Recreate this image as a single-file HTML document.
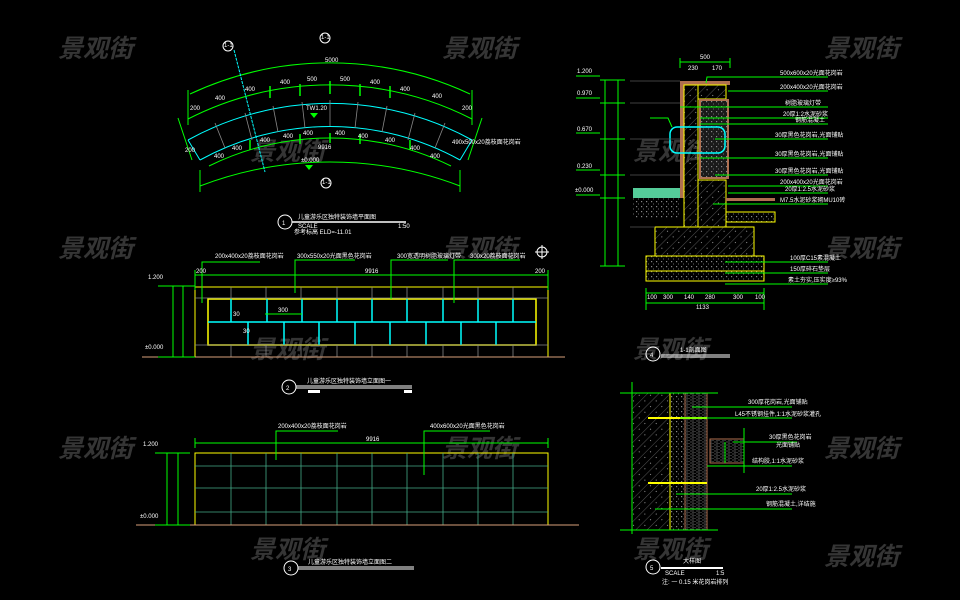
<!DOCTYPE html>
<html><head><meta charset="utf-8"><style>
html,body{margin:0;padding:0;background:#000;}
svg{display:block;font-family:"Liberation Sans","Noto Sans CJK SC",sans-serif;}
.w{fill:#fff;font-size:6px;}
.wm{fill:#353535;font-size:25px;font-style:italic;font-weight:bold;font-family:"Liberation Sans","Noto Sans CJK SC",sans-serif;}
</style></head><body>
<svg width="960" height="600" viewBox="0 0 960 600" xmlns="http://www.w3.org/2000/svg">
<defs>
<pattern id="hatch" width="8" height="8" patternUnits="userSpaceOnUse" patternTransform="rotate(45)">
<line x1="0" y1="0" x2="0" y2="8" stroke="#777" stroke-width="0.7"/>
<rect x="3" y="3" width="1" height="1" fill="#999"/></pattern>
<pattern id="dots" width="5" height="5" patternUnits="userSpaceOnUse">
<rect x="1" y="1" width="1.2" height="1.2" fill="#888"/><rect x="3" y="3.5" width="1" height="1" fill="#666"/></pattern>
<pattern id="stone" width="6" height="3" patternUnits="userSpaceOnUse">
<line x1="0" y1="1" x2="4" y2="1" stroke="#777" stroke-width="0.6"/><line x1="2" y1="2.5" x2="6" y2="2.5" stroke="#555" stroke-width="0.6"/></pattern>
</defs>
<rect width="960" height="600" fill="#000"/>

<!-- watermarks -->
<g class="wm">
<text x="58" y="57">景观街</text><text x="442" y="57">景观街</text><text x="824" y="57">景观街</text>
<text x="250" y="160">景观街</text><text x="633" y="160">景观街</text>
<text x="58" y="257">景观街</text><text x="442" y="257">景观街</text><text x="824" y="257">景观街</text>
<text x="250" y="358">景观街</text><text x="633" y="358">景观街</text>
<text x="58" y="457">景观街</text><text x="442" y="457">景观街</text><text x="824" y="457">景观街</text>
<text x="250" y="558">景观街</text><text x="633" y="558">景观街</text><text x="824" y="565">景观街</text>
</g>

<!-- PLAN 1 -->
<g fill="none" stroke="#0f0" stroke-width="1">
<path d="M190 94 A331 331 0 0 1 470 94"/>
<path d="M188 119 A313 313 0 0 1 472 119"/>
<path d="M209 166 A275 275 0 0 1 451 166"/>
<path d="M200 186 A364 364 0 0 1 460 186"/>
<line x1="188" y1="90" x2="188" y2="125"/><line x1="472" y1="90" x2="472" y2="125"/>
<line x1="178" y1="118" x2="192" y2="160"/><line x1="482" y1="118" x2="468" y2="160"/>
<line x1="200" y1="170" x2="200" y2="192"/><line x1="460" y1="170" x2="460" y2="192"/>
</g>
<g fill="none" stroke="#0ff" stroke-width="1">
<path d="M188 140 A294 294 0 0 1 472 140"/>
<path d="M200 160 A269 269 0 0 1 460 160"/>
<line x1="188" y1="140" x2="200" y2="160"/><line x1="472" y1="140" x2="460" y2="160"/>
<line x1="234" y1="50" x2="265" y2="172" stroke-dasharray="3,1"/>
</g>
<g stroke="#888" stroke-width="0.8">
<line x1="215" y1="123" x2="225" y2="148"/><line x1="245" y1="113" x2="252" y2="140"/>
<line x1="273" y1="106" x2="278" y2="132"/><line x1="302" y1="102" x2="305" y2="128"/>
<line x1="330" y1="100" x2="330" y2="126"/><line x1="358" y1="102" x2="355" y2="128"/>
<line x1="387" y1="106" x2="382" y2="132"/><line x1="415" y1="113" x2="408" y2="140"/>
<line x1="445" y1="123" x2="435" y2="148"/>
</g>
<g stroke="#0f0" stroke-width="1.5">
<line x1="300" y1="84" x2="300" y2="96"/><line x1="330" y1="81" x2="330" y2="94"/><line x1="360" y1="84" x2="360" y2="96"/>
<line x1="270" y1="86" x2="270" y2="98"/><line x1="390" y1="86" x2="390" y2="98"/>
<line x1="300" y1="134" x2="300" y2="144"/><line x1="330" y1="133" x2="330" y2="143"/><line x1="360" y1="134" x2="360" y2="144"/>
<line x1="250" y1="140" x2="250" y2="150"/><line x1="410" y1="140" x2="410" y2="150"/>
</g>
<g class="w" font-size="5">
<text x="325" y="62">5000</text>
<text x="215" y="100">400</text><text x="245" y="91">400</text><text x="280" y="84">400</text><text x="307" y="81">500</text>
<text x="340" y="81">500</text><text x="370" y="84">400</text><text x="400" y="91">400</text><text x="432" y="98">400</text>
<text x="190" y="110">200</text><text x="462" y="110">200</text>
<text x="185" y="152">200</text><text x="214" y="158">400</text><text x="232" y="150">400</text><text x="260" y="142">400</text>
<text x="283" y="138">400</text><text x="303" y="135">400</text><text x="335" y="135">400</text><text x="358" y="138">400</text>
<text x="385" y="142">400</text><text x="410" y="150">400</text><text x="430" y="158">400</text>
<text x="306" y="110" font-size="6">TW1.20</text><text x="318" y="149">9916</text><text x="301" y="162">±0.000</text>
<text x="452" y="144">490x500x20荔枝面花岗岩</text>
</g>
<g fill="#0f0"><polygon points="310,113 318,113 314,118"/><polygon points="305,165 313,165 309,170"/></g>
<g fill="none" stroke="#fff" stroke-width="1">
<circle cx="228" cy="46" r="5"/><circle cx="325" cy="38" r="5"/><circle cx="326" cy="183" r="5"/>
</g>
<g class="w" font-size="4"><text x="224" y="47">1-1</text><text x="321" y="39">1-1</text><text x="322" y="184">1-1</text></g>
<circle cx="285" cy="222" r="7" fill="none" stroke="#fff"/><text x="282" y="225" class="w" font-size="8" fill="#f55">1</text>
<text x="298" y="219" class="w" font-size="7">儿童游乐区独特装饰墙平面图</text>
<line x1="292" y1="222" x2="406" y2="222" stroke="#fff" stroke-width="1.5"/>
<text x="298" y="228" class="w" font-size="4">SCALE</text><text x="398" y="228" class="w" font-size="4">1:50</text>
<text x="294" y="234" class="w" font-size="4">参考标高 ELD=-11.01</text>

<!-- crosshair -->
<g stroke="#fff" fill="none"><circle cx="542" cy="252" r="5"/><line x1="535" y1="252" x2="549" y2="252"/><line x1="542" y1="245" x2="542" y2="259"/></g>

<!-- ELEVATION 2 -->
<rect x="195" y="287" width="353" height="70" fill="none" stroke="#ff0"/>
<rect x="208" y="299" width="328" height="46" fill="none" stroke="#ff0" stroke-width="1.5"/>
<line x1="208" y1="322" x2="536" y2="322" stroke="#0ff" stroke-width="1.5"/>
<g stroke="#0ff" stroke-width="1.5">
<line x1="231" y1="299" x2="231" y2="322"/><line x1="267" y1="299" x2="267" y2="322"/><line x1="302" y1="299" x2="302" y2="322"/>
<line x1="337" y1="299" x2="337" y2="322"/><line x1="372" y1="299" x2="372" y2="322"/><line x1="407" y1="299" x2="407" y2="322"/>
<line x1="443" y1="299" x2="443" y2="322"/><line x1="478" y1="299" x2="478" y2="322"/><line x1="513" y1="299" x2="513" y2="322"/>
<line x1="248" y1="322" x2="248" y2="345"/><line x1="284" y1="322" x2="284" y2="345"/><line x1="319" y1="322" x2="319" y2="345"/>
<line x1="355" y1="322" x2="355" y2="345"/><line x1="390" y1="322" x2="390" y2="345"/><line x1="426" y1="322" x2="426" y2="345"/>
<line x1="461" y1="322" x2="461" y2="345"/><line x1="496" y1="322" x2="496" y2="345"/>
</g>
<g stroke="#888" stroke-width="0.8">
<line x1="195" y1="298" x2="548" y2="298"/><line x1="195" y1="345" x2="548" y2="345"/>
<line x1="231" y1="287" x2="231" y2="299"/><line x1="266" y1="287" x2="266" y2="299"/><line x1="301" y1="287" x2="301" y2="299"/><line x1="337" y1="287" x2="337" y2="299"/><line x1="372" y1="287" x2="372" y2="299"/><line x1="407" y1="287" x2="407" y2="299"/><line x1="443" y1="287" x2="443" y2="299"/><line x1="478" y1="287" x2="478" y2="299"/><line x1="513" y1="287" x2="513" y2="299"/>
<line x1="231" y1="345" x2="231" y2="357"/><line x1="266" y1="345" x2="266" y2="357"/><line x1="301" y1="345" x2="301" y2="357"/><line x1="337" y1="345" x2="337" y2="357"/><line x1="372" y1="345" x2="372" y2="357"/><line x1="407" y1="345" x2="407" y2="357"/><line x1="443" y1="345" x2="443" y2="357"/><line x1="478" y1="345" x2="478" y2="357"/><line x1="513" y1="345" x2="513" y2="357"/>
</g>
<line x1="142" y1="357" x2="565" y2="357" stroke="#d9a07a"/>
<g stroke="#0f0" stroke-width="1" fill="none">
<line x1="195" y1="275" x2="548" y2="275"/><line x1="195" y1="270" x2="195" y2="290"/><line x1="548" y1="270" x2="548" y2="290"/>
<line x1="173" y1="286" x2="173" y2="357"/><line x1="183" y1="286" x2="183" y2="357"/>
<line x1="158" y1="286" x2="195" y2="286"/><line x1="158" y1="357" x2="195" y2="357"/>
<polyline points="202,303 202,262 260,262"/><polyline points="295,293 295,260 355,260"/>
<polyline points="391,299 391,260 448,260"/><polyline points="454,303 454,260 520,260"/>
<line x1="265" y1="314" x2="302" y2="314"/>
</g>
<g class="w" font-size="5">
<text x="215" y="258">200x400x20荔枝面花岗岩</text><text x="297" y="258">300x550x20光面黑色花岗岩</text>
<text x="397" y="258">300宽透明树脂玻璃灯带</text><text x="470" y="258">300x20荔枝面花岗岩</text>
<text x="196" y="273">200</text><text x="535" y="273">200</text><text x="365" y="273">9916</text>
<text x="148" y="279">1.200</text><text x="145" y="349">±0.000</text>
<text x="278" y="312">300</text><text x="233" y="316">30</text><text x="243" y="333">30</text>
</g>
<circle cx="289" cy="387" r="7" fill="none" stroke="#fff"/><text x="286" y="390" class="w" font-size="8">2</text>
<text x="307" y="383" class="w" font-size="7">儿童游乐区独特装饰墙立面图一</text>
<line x1="296" y1="386" x2="412" y2="386" stroke="#fff"/><line x1="296" y1="388" x2="412" y2="388" stroke="#fff"/>
<rect x="308" y="390" width="12" height="3" fill="#fff"/><rect x="404" y="390" width="8" height="3" fill="#fff"/>

<!-- ELEVATION 3 -->
<rect x="195" y="453" width="353" height="72" fill="none" stroke="#ff0"/>
<g stroke="#4a8" stroke-width="0.8">
<line x1="195" y1="466" x2="548" y2="466"/><line x1="195" y1="488" x2="548" y2="488"/><line x1="195" y1="512" x2="548" y2="512"/>
<line x1="231" y1="453" x2="231" y2="525"/><line x1="266" y1="453" x2="266" y2="525"/><line x1="301" y1="453" x2="301" y2="525"/><line x1="337" y1="453" x2="337" y2="525"/><line x1="372" y1="453" x2="372" y2="525"/><line x1="407" y1="453" x2="407" y2="525"/><line x1="443" y1="453" x2="443" y2="525"/><line x1="478" y1="453" x2="478" y2="525"/><line x1="513" y1="453" x2="513" y2="525"/>
</g>
<line x1="136" y1="525" x2="579" y2="525" stroke="#d9a07a"/>
<g stroke="#0f0" fill="none">
<line x1="195" y1="443" x2="548" y2="443"/><line x1="195" y1="438" x2="195" y2="448"/><line x1="548" y1="438" x2="548" y2="448"/>
<line x1="167" y1="453" x2="167" y2="525"/><line x1="178" y1="453" x2="178" y2="525"/>
<line x1="155" y1="453" x2="190" y2="453"/><line x1="155" y1="525" x2="190" y2="525"/>
<polyline points="276,460 276,431 338,431"/><polyline points="424,475 424,431 490,431"/>
</g>
<g class="w" font-size="5">
<text x="278" y="428">200x400x20荔枝面花岗岩</text><text x="430" y="428">400x600x20光面黑色花岗岩</text>
<text x="366" y="441">9916</text><text x="143" y="446">1.200</text><text x="140" y="518">±0.000</text>
</g>
<circle cx="291" cy="568" r="7" fill="none" stroke="#fff"/><text x="288" y="571" class="w" font-size="8">3</text>
<text x="308" y="564" class="w" font-size="7">儿童游乐区独特装饰墙立面图二</text>
<line x1="298" y1="567" x2="414" y2="567" stroke="#fff"/><line x1="298" y1="569" x2="414" y2="569" stroke="#fff"/>

<!-- SECTION 4 -->
<g>
<rect x="633" y="198" width="47" height="20" fill="url(#dots)"/>
<rect x="633" y="188" width="47" height="10" fill="#5c9"/>
<rect x="655" y="227" width="99" height="29" fill="url(#hatch)" stroke="#ff0"/>
<rect x="646" y="256" width="118" height="15" fill="url(#dots)" stroke="#ff0"/>
<rect x="646" y="271" width="118" height="10" fill="url(#dots)" stroke="#ff0"/>
<rect x="680" y="81" width="50" height="4" fill="#b07050"/>
<rect x="680" y="81" width="4" height="117" fill="#b07050"/>
<rect x="684" y="85" width="14" height="142" fill="url(#hatch)" stroke="#ff0"/>
<rect x="698" y="85" width="28" height="14" fill="url(#hatch)" stroke="#ff0"/>
<rect x="700" y="100" width="28" height="78" fill="#1a1a1a" stroke="#b07050" stroke-width="2"/>
<rect x="700" y="100" width="28" height="78" fill="url(#dots)"/>
<rect x="698" y="180" width="28" height="47" fill="url(#hatch)" stroke="#ff0"/>
<rect x="726" y="198" width="49" height="3" fill="#b07050"/>
<rect x="726" y="212" width="49" height="10" fill="url(#dots)" stroke="#ff0"/>
<rect x="670" y="127" width="55" height="26" rx="7" fill="none" stroke="#0ff" stroke-width="1.5"/>
</g>
<g stroke="#555" stroke-width="0.8">
<line x1="630" y1="81" x2="680" y2="81"/><line x1="630" y1="103" x2="680" y2="103"/><line x1="630" y1="139" x2="680" y2="139"/><line x1="630" y1="175" x2="680" y2="175"/><line x1="630" y1="227" x2="655" y2="227"/>
</g>
<g stroke="#0f0" fill="none">
<line x1="605" y1="80" x2="605" y2="266"/><line x1="618" y1="80" x2="618" y2="266"/>
<line x1="576" y1="76" x2="600" y2="76"/><line x1="576" y1="98" x2="600" y2="98"/><line x1="576" y1="133" x2="600" y2="133"/><line x1="576" y1="170" x2="600" y2="170"/><line x1="576" y1="195" x2="600" y2="195"/>
<line x1="600" y1="80" x2="625" y2="80"/><line x1="600" y1="103" x2="625" y2="103"/><line x1="600" y1="139" x2="625" y2="139"/><line x1="600" y1="175" x2="625" y2="175"/><line x1="600" y1="198" x2="625" y2="198"/><line x1="600" y1="266" x2="625" y2="266"/>
<line x1="680" y1="62" x2="730" y2="62"/><line x1="680" y1="58" x2="680" y2="68"/><line x1="730" y1="58" x2="730" y2="68"/>
<line x1="646" y1="293" x2="764" y2="293"/><line x1="646" y1="303" x2="764" y2="303"/>
<line x1="646" y1="288" x2="646" y2="310"/><line x1="764" y1="288" x2="764" y2="310"/>
<polyline points="706,83 707,77 828,77"/><line x1="728" y1="91" x2="828" y2="91"/>
<line x1="680" y1="107" x2="828" y2="107"/><line x1="700" y1="118" x2="828" y2="118"/>
<line x1="700" y1="124" x2="828" y2="124"/><line x1="715" y1="139" x2="828" y2="139"/>
<line x1="700" y1="158" x2="828" y2="158"/><line x1="715" y1="175" x2="828" y2="175"/>
<line x1="728" y1="186" x2="828" y2="186"/><line x1="728" y1="193" x2="828" y2="193"/>
<line x1="713" y1="204" x2="828" y2="204"/>
<line x1="725" y1="262" x2="828" y2="262"/><line x1="725" y1="273" x2="828" y2="273"/><line x1="725" y1="284" x2="828" y2="284"/>
<polyline points="650,118 668,118 672,127"/>
</g>
<g class="w" font-size="5">
<text x="700" y="59">500</text><text x="688" y="70">230</text><text x="712" y="70">170</text>
<text x="577" y="73">1.200</text><text x="577" y="95">0.970</text><text x="577" y="131">0.670</text><text x="577" y="168">0.230</text><text x="575" y="192">±0.000</text>
<text x="780" y="75">500x600x20光面花岗岩</text><text x="780" y="89">200x400x20光面花岗岩</text>
<text x="785" y="105">树脂玻璃灯带</text><text x="783" y="116">20厚1:2水泥砂浆</text>
<text x="795" y="122">钢筋混凝土</text><text x="775" y="137">30厚黑色花岗岩,光面铺贴</text>
<text x="775" y="156">30厚黑色花岗岩,光面铺贴</text><text x="775" y="173">30厚黑色花岗岩,光面铺贴</text>
<text x="780" y="184">200x400x20光面花岗岩</text><text x="785" y="191">20厚1:2.5水泥砂浆</text>
<text x="780" y="202">M7.5水泥砂浆砌MU10砖</text>
<text x="790" y="260">100厚C15素混凝土</text><text x="790" y="271">150厚碎石垫层</text><text x="788" y="282">素土夯实,压实度≥93%</text>
<text x="647" y="299">100</text><text x="663" y="299">300</text><text x="684" y="299">140</text><text x="705" y="299">280</text><text x="733" y="299">300</text><text x="755" y="299">100</text>
<text x="696" y="309">1133</text>
</g>
<circle cx="653" cy="354" r="7" fill="none" stroke="#fff"/><text x="650" y="357" class="w" font-size="8">4</text>
<text x="680" y="352" class="w" font-size="7">1-1剖面图</text>
<line x1="661" y1="355" x2="730" y2="355" stroke="#fff"/><line x1="661" y1="357" x2="730" y2="357" stroke="#fff"/>

<!-- DETAIL 5 -->
<rect x="632" y="393" width="38" height="137" fill="url(#hatch)"/>
<rect x="670" y="393" width="15" height="137" fill="url(#dots)"/>
<rect x="685" y="393" width="22" height="137" fill="url(#stone)" stroke="#b07050"/>
<line x1="670" y1="393" x2="670" y2="530" stroke="#ff0"/>
<rect x="710" y="439" width="34" height="24" fill="url(#stone)" stroke="#b07050"/>
<g stroke="#ff0" stroke-width="2"><line x1="648" y1="418" x2="707" y2="418"/><line x1="648" y1="483" x2="707" y2="483"/></g>
<g stroke="#0f0" fill="none">
<line x1="620" y1="393" x2="718" y2="393"/><line x1="620" y1="530" x2="718" y2="530"/><line x1="632" y1="382" x2="632" y2="534"/>
<line x1="744" y1="428" x2="744" y2="473"/><line x1="725" y1="442" x2="725" y2="463"/>
<line x1="692" y1="407" x2="792" y2="407"/><line x1="680" y1="418" x2="792" y2="418"/>
<line x1="733" y1="442" x2="797" y2="442"/><line x1="707" y1="466" x2="792" y2="466"/>
<line x1="676" y1="494" x2="792" y2="494"/><line x1="655" y1="509" x2="792" y2="509"/>
</g>
<g class="w" font-size="5">
<text x="748" y="404">300厚花岗岩,光面铺贴</text><text x="735" y="416">L45不锈钢挂件,1:1水泥砂浆灌孔</text>
<text x="769" y="439">30厚黑色花岗岩</text><text x="776" y="447">光面铺贴</text><text x="752" y="463">结构胶,1:1水泥砂浆</text>
<text x="756" y="491">20厚1:2.5水泥砂浆</text><text x="766" y="506">钢筋混凝土,详结施</text>
</g>
<circle cx="653" cy="567" r="7" fill="none" stroke="#fff"/><text x="650" y="570" class="w" font-size="8" fill="#6cf">5</text>
<text x="683" y="563" class="w" font-size="7">大样图</text>
<line x1="661" y1="568" x2="723" y2="568" stroke="#fff" stroke-width="2"/>
<text x="665" y="575" class="w" font-size="4">SCALE</text><text x="716" y="575" class="w" font-size="4">1:5</text>
<text x="662" y="584" class="w" font-size="4">注: 一 0.15 米花岗岩排列</text>
</svg>
</body></html>
